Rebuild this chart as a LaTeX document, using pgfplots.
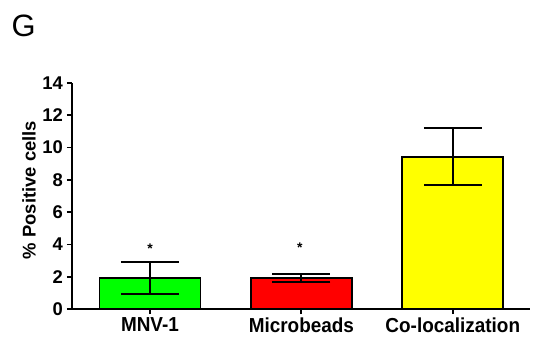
\documentclass[border=0pt]{standalone}
\usepackage{pgfplots}
\pgfplotsset{compat=1.18}
\usepackage{fontspec}
\setmainfont{Liberation Sans}
\definecolor{bargreen}{RGB}{0,255,0}
\definecolor{barred}{RGB}{255,0,0}
\definecolor{baryellow}{RGB}{255,255,0}
\begin{document}
\begin{tikzpicture}
\begin{axis}[
  scale only axis,
  width=458bp, height=226bp,
  axis lines*=left,
  axis line style={line width=1.8bp},
  xmin=-0.515, xmax=2.51,
  ymin=0, ymax=14,
  ytick={0,2,...,14},
  xtick={0,1,2},
  xticklabels={MNV-1,Microbeads,Co-localization},
  tick align=outside,
  major tick length=5bp,
  tick style={line width=1.8bp, black},
  /pgf/number format/assume math mode=true,
  yticklabel style={font=\fontsize{18.5}{18.5}\selectfont\bfseries, xshift=-0.5bp},
  xticklabel style={font=\fontsize{19}{19}\selectfont\bfseries, yscale=1.07},
  ylabel={\% Positive cells},
  ylabel style={at={(axis description cs:-0.094,0.527)}, anchor=center, font=\fontsize{18.5}{18.5}\selectfont\bfseries},
  ybar, bar shift=0pt, bar width=0.667,
  every axis plot/.append style={draw=black, line width=1.8bp},
  error bars/y dir=both, error bars/y explicit,
  error bars/error mark options={rotate=90, mark size=29bp, line width=1.8bp, black},
  error bars/error bar style={line width=1.8bp, black},
  clip=false,
]
\addplot[fill=bargreen] coordinates {(0,1.92) +- (0,1.0)};
\addplot[fill=barred] coordinates {(1,1.92) +- (0,0.27)};
\addplot[fill=baryellow] coordinates {(2,9.44) +- (0,1.76)};
\node[anchor=base, inner sep=0pt, font=\fontsize{14}{14}\selectfont\bfseries] at (axis cs:0,3.45) {*};
\node[anchor=base, inner sep=0pt, font=\fontsize{14}{14}\selectfont\bfseries] at (axis cs:0.99,3.5) {*};
\end{axis}
\node[anchor=north west, inner sep=0pt, font=\fontsize{31}{31}\selectfont] at ([xshift=-60.5bp, yshift=68bp]current axis.north west) {G};
\pgfresetboundingbox
\path ([xshift=-72bp, yshift=-40.7bp]current axis.south west) rectangle ([xshift=8bp, yshift=83bp]current axis.north east);
\end{tikzpicture}
\end{document}
